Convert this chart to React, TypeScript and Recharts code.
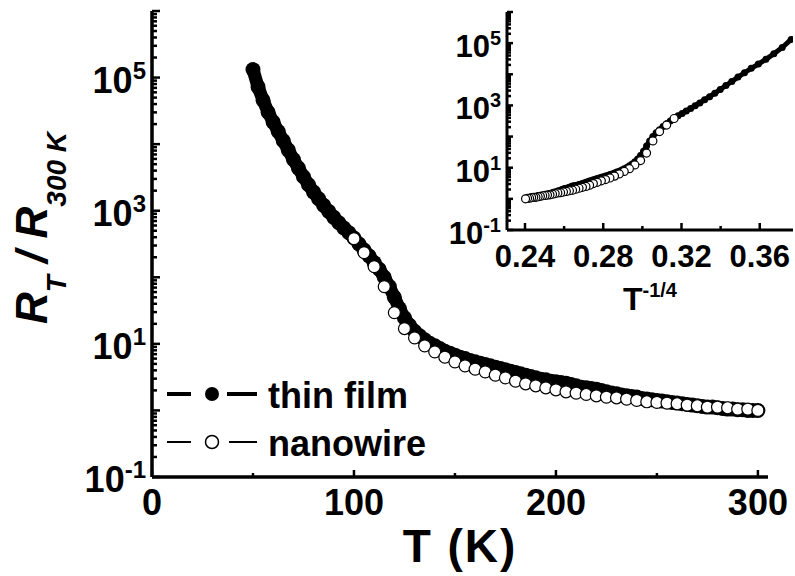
import React from "react"
import { ScatterChart, Scatter, XAxis, YAxis, Legend, Label } from "recharts"

// thin film: T (K) and log10(R_T / R_300K)
const thinFilmT = [
  50, 52.5, 55, 57.5, 60, 62.5, 65, 67.5, 70, 72.5,
  75, 77.5, 80, 82.5, 85, 87.5, 90, 92.5, 95, 97.5,
  100, 102.5, 105, 107.5, 110, 112.5, 115, 117.5, 120, 122.5,
  125, 127.5, 130, 132.5, 135, 137.5, 140, 142.5, 145, 147.5,
  150, 152.5, 155, 157.5, 160, 162.5, 165, 167.5, 170, 172.5,
  175, 177.5, 180, 182.5, 185, 187.5, 190, 192.5, 195, 197.5,
  200, 202.5, 205, 207.5, 210, 212.5, 215, 217.5, 220, 222.5,
  225, 227.5, 230, 232.5, 235, 237.5, 240, 242.5, 245, 247.5,
  250, 252.5, 255, 257.5, 260, 262.5, 265, 267.5, 270, 272.5,
  275, 277.5, 280, 282.5, 285, 287.5, 290, 292.5, 295, 297.5,
  300,
]
const thinFilmLogR = [
  5.12, 4.86, 4.66, 4.48, 4.33, 4.19, 4.05, 3.91, 3.77, 3.64,
  3.51, 3.39, 3.28, 3.18, 3.08, 2.99, 2.9, 2.82, 2.74, 2.67,
  2.59, 2.5, 2.41, 2.32, 2.22, 2.12, 2.0, 1.86, 1.7, 1.53,
  1.39, 1.28, 1.19, 1.12, 1.06, 1.01, 0.97, 0.93, 0.89, 0.86,
  0.83, 0.8, 0.78, 0.75, 0.73, 0.71, 0.69, 0.67, 0.65, 0.63,
  0.61, 0.59, 0.57, 0.55, 0.53, 0.51, 0.49, 0.47, 0.46, 0.44,
  0.43, 0.42, 0.41, 0.39, 0.37, 0.35, 0.34, 0.33, 0.32, 0.3,
  0.28, 0.26, 0.25, 0.23, 0.22, 0.21, 0.2, 0.18, 0.17, 0.16,
  0.15, 0.14, 0.13, 0.12, 0.11, 0.1, 0.09, 0.08, 0.07, 0.06,
  0.05, 0.05, 0.04, 0.03, 0.02, 0.02, 0.01, 0.01, 0.0, 0.0,
  0.0,
]

// nanowire
const nanowireT = [
  100, 105, 110, 115, 120, 125, 130, 135, 140, 145,
  150, 155, 160, 165, 170, 175, 180, 185, 190, 195,
  200, 205, 210, 215, 220, 225, 230, 235, 240, 245,
  250, 255, 260, 265, 270, 275, 280, 285, 290, 295,
  300,
]
const nanowireLogR = [
  2.58, 2.37, 2.16, 1.86, 1.47, 1.23, 1.09, 0.97, 0.88, 0.8,
  0.73, 0.67, 0.62, 0.58, 0.53, 0.49, 0.44, 0.4, 0.37, 0.34,
  0.31, 0.28, 0.26, 0.24, 0.22, 0.2, 0.19, 0.17, 0.15, 0.13,
  0.12, 0.11, 0.1, 0.08, 0.07, 0.05, 0.05, 0.04, 0.02, 0.02,
  0.0,
]

const decades = [0.1, 1, 10, 100, 1000, 10000, 100000, 1000000]
const mainXTicks = [0, 50, 100, 150, 200, 250, 300]
const mainXLabels = [0, 100, 200, 300]
const insetXTicks = [0.24, 0.26, 0.28, 0.3, 0.32, 0.34, 0.36]
const insetXLabels = [0.24, 0.28, 0.32, 0.36]

const FONT = "'Liberation Sans', Arial, sans-serif"

const logTicks = decades.slice(0, -1).flatMap((d) => [1, 2, 3, 4, 5, 6, 7, 8, 9].map((k) => d * k)).concat([1000000])

const toPoints = (t: number[], logR: number[]) => t.map((T, i) => ({ x: T, y: Math.pow(10, logR[i]) }))
const toInset = (t: number[], logR: number[]) => t.map((T, i) => ({ x: Math.pow(T, -0.25), y: Math.pow(10, logR[i]) }))

const thinFilm = toPoints(thinFilmT, thinFilmLogR)
const nanowire = toPoints(nanowireT, nanowireLogR)
const thinFilmInset = toInset(thinFilmT, thinFilmLogR)
const nanowireInset = toInset(nanowireT, nanowireLogR)

const exponentOf = (v: number) => {
  const e = Math.log10(v)
  return Math.abs(e - Math.round(e)) < 1e-6 ? Math.round(e) : null
}

function makeYTick(big: number, small: number, sup: number, dy: number, majorLen: number, minorLen: number) {
  return (props: any) => {
    const { x, y, payload } = props
    const n = exponentOf(payload.value)
    const major = n !== null
    return (
      <g>
        <line x1={x} x2={x + (major ? majorLen : minorLen)} y1={y} y2={y} stroke="#000" strokeWidth={2.5} />
        {major && n! % 2 !== 0 && (
          <text x={x - 6} y={y + dy} textAnchor="end" fontFamily={FONT} fontWeight="bold" fontSize={big} fill="#000">
            10<tspan dy={-sup} fontSize={small}>{n}</tspan>
          </text>
        )}
      </g>
    )
  }
}

function makeXTick(labels: number[], size: number, dy: number, digits: number) {
  return (props: any) => {
    const { x, y, payload } = props
    const v = payload.value
    const major = labels.some((l) => Math.abs(l - v) < 1e-9)
    return (
      <g>
        <line x1={x} x2={x} y1={y} y2={y - (major ? 7 : 4)} stroke="#000" strokeWidth={2.5} />
        {major && (
          <text x={x} y={y + dy} textAnchor="middle" fontFamily={FONT} fontWeight="bold" fontSize={size} fill="#000">
            {v.toFixed(digits)}
          </text>
        )}
      </g>
    )
  }
}

const filled = (r: number) => (p: any) => <circle cx={p.cx} cy={p.cy} r={r} fill="#000" />
const open = (r: number) => (p: any) => <circle cx={p.cx} cy={p.cy} r={r} fill="#fff" stroke="#000" strokeWidth={1.2} />

const renderLegend = () => (
  <svg width={300} height={95}>
    <g fontFamily={FONT} fontWeight="bold" fontSize={36} fill="#000">
      <line x1={7} x2={31} y1={24} y2={24} stroke="#000" strokeWidth={4} />
      <circle cx={52} cy={24} r={7} fill="#000" />
      <line x1={67} x2={97} y1={24} y2={24} stroke="#000" strokeWidth={4} />
      <text x={108} y={38}>thin film</text>
      <line x1={7} x2={31} y1={72} y2={72} stroke="#000" strokeWidth={2} />
      <circle cx={52} cy={72} r={6.5} fill="#fff" stroke="#000" strokeWidth={1.5} />
      <line x1={69} x2={97} y1={72} y2={72} stroke="#000" strokeWidth={2} />
      <text x={108} y={86}>nanowire</text>
    </g>
  </svg>
)

const MainXTitle = (props: any) => {
  const { x, width, y } = props.viewBox
  return (
    <text x={x + width / 2} y={y + 85} textAnchor="middle" fontFamily={FONT} fontWeight="bold" fontSize={46} letterSpacing={2} fill="#000">
      T (K)
    </text>
  )
}

const MainYTitle = () => (
  <text
    x={47}
    y={228}
    transform="rotate(-90, 47, 228)"
    textAnchor="middle"
    fontFamily={FONT}
    fontWeight="bold"
    fontStyle="italic"
    fontSize={44}
    fill="#000"
  >
    R<tspan dy={19} fontSize={28}>T</tspan>
    <tspan dy={-19}> / R</tspan>
    <tspan dy={19} fontSize={28}>300 K</tspan>
  </text>
)

const InsetXTitle = (props: any) => {
  const { x, width, y } = props.viewBox
  return (
    <text x={x + width / 2} y={y + 80} textAnchor="middle" fontFamily={FONT} fontWeight="bold" fontSize={32} fill="#000">
      T<tspan dy={-13} fontSize={20}>-1/4</tspan>
    </text>
  )
}

export default function App() {
  return (
    <div style={{ position: "absolute", left: 0, top: 0, width: 795, height: 576, background: "#fff", overflow: "hidden" }}>
      <div style={{ position: "absolute", left: 0, top: 0 }}>
        <ScatterChart width={795} height={576} margin={{ top: 11, right: 27, bottom: 0, left: 0 }}>
          <XAxis
            type="number"
            dataKey="x"
            domain={[0, 305]}
            ticks={mainXTicks}
            interval={0}
            height={99}
            tickSize={0}
            tickMargin={0}
            tickLine={false}
            axisLine={{ stroke: "#000", strokeWidth: 3.5 }}
            tick={makeXTick(mainXLabels, 36, 38, 0)}
          >
            <Label content={<MainXTitle />} />
          </XAxis>
          <YAxis
            type="number"
            dataKey="y"
            scale="log"
            domain={[0.1, 1000000]}
            allowDataOverflow
            ticks={logTicks}
            interval={0}
            width={152}
            tickSize={0}
            tickMargin={0}
            tickLine={false}
            axisLine={{ stroke: "#000", strokeWidth: 3.5 }}
            tick={makeYTick(36, 24, 14, 15, 8, 5)}
          >
            <Label content={<MainYTitle />} />
          </YAxis>
          <Legend
            layout="vertical"
            align="center"
            verticalAlign="middle"
            wrapperStyle={{ left: 160, top: 370, width: 300, height: 95 }}
            content={renderLegend}
          />
          <Scatter
            name="thin film"
            data={thinFilm}
            line={{ stroke: "#000", strokeWidth: 13, strokeLinejoin: "round", strokeLinecap: "round" }}
            shape={filled(7.5)}
            isAnimationActive={false}
          />
          <Scatter name="nanowire" data={nanowire} shape={open(6)} isAnimationActive={false} />
        </ScatterChart>
      </div>
      <div style={{ position: "absolute", left: 420, top: 0 }}>
        <ScatterChart width={375} height={320} margin={{ top: 12, right: 2, bottom: 0, left: 0 }}>
          <XAxis
            type="number"
            dataKey="x"
            domain={[0.2308, 0.377]}
            allowDataOverflow
            ticks={insetXTicks}
            interval={0}
            height={90}
            tickSize={0}
            tickMargin={0}
            tickLine={false}
            axisLine={{ stroke: "#000", strokeWidth: 3 }}
            tick={makeXTick(insetXLabels, 31, 37, 2)}
          >
            <Label content={<InsetXTitle />} />
          </XAxis>
          <YAxis
            type="number"
            dataKey="y"
            scale="log"
            domain={[0.1, 1000000]}
            allowDataOverflow
            ticks={logTicks}
            interval={0}
            width={87}
            tickSize={0}
            tickMargin={0}
            tickLine={false}
            axisLine={{ stroke: "#000", strokeWidth: 3 }}
            tick={makeYTick(31, 20, 12, 14, 6, 4)}
          />
          <Scatter
            name="thin film"
            data={thinFilmInset}
            line={{ stroke: "#000", strokeWidth: 5, strokeLinejoin: "round" }}
            shape={filled(3.5)}
            isAnimationActive={false}
          />
          <Scatter name="nanowire" data={nanowireInset} shape={open(4)} isAnimationActive={false} />
        </ScatterChart>
      </div>
    </div>
  )
}
